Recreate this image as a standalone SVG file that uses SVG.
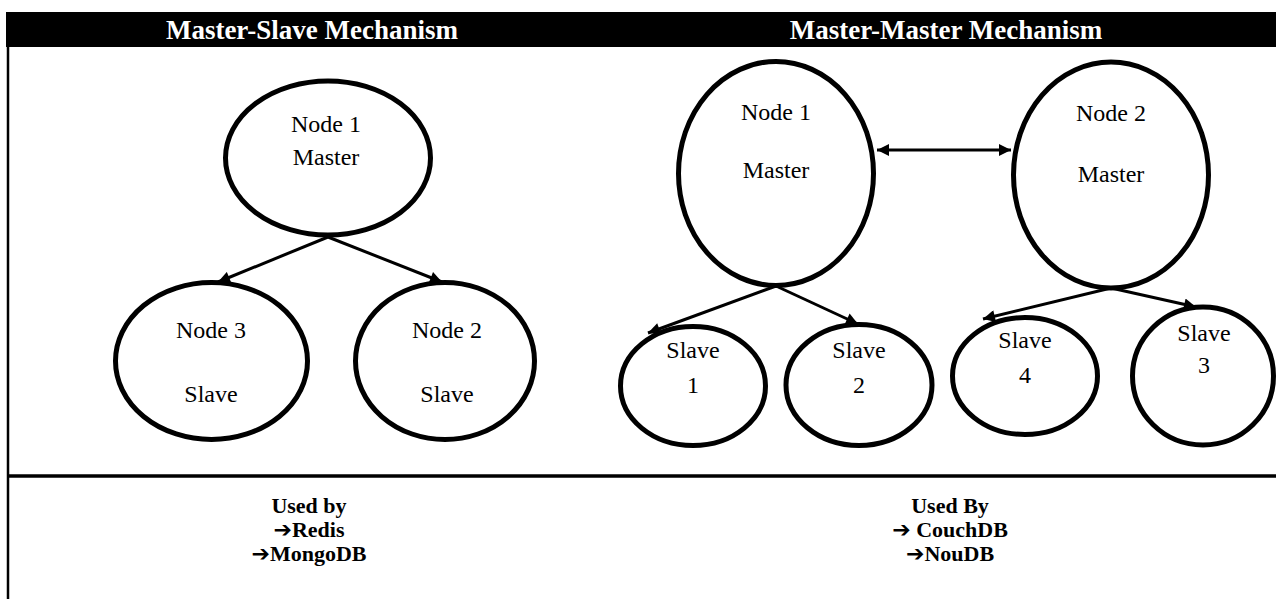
<svg xmlns="http://www.w3.org/2000/svg" width="1276" height="599" viewBox="0 0 1276 599">
<style>
.hdr{font-family:"Liberation Serif","Times New Roman",serif;font-weight:bold;font-size:27px;fill:#fff;text-anchor:middle}
.nt{font-family:"Liberation Serif","Times New Roman",serif;font-size:24px;fill:#000;text-anchor:middle}
.ft{font-family:"Liberation Serif","DejaVu Serif",serif;font-weight:bold;font-size:22px;fill:#000;text-anchor:middle}
.ar{font-family:"DejaVu Sans",sans-serif;font-weight:bold}
.node ellipse{fill:#fff;stroke:#000;stroke-width:5}
.edge{stroke:#000;stroke-width:3;fill:none}
</style>
<defs>
<marker id="ah" viewBox="0 0 10 10" refX="10" refY="5" markerWidth="4.5" markerHeight="4" orient="auto-start-reverse" markerUnits="strokeWidth">
<path d="M0,0 L10,5 L0,10 z" fill="#000"/>
</marker>
</defs>
<rect width="1276" height="599" fill="#fff"/>
<g id="frame">
<rect x="6" y="12" width="1270" height="35" fill="#000"/>
<line x1="8" y1="47" x2="8" y2="599" stroke="#000" stroke-width="2.5"/>
<line x1="7" y1="476" x2="1276" y2="476" stroke="#000" stroke-width="3.5"/>
<text class="hdr" x="312" y="39">Master-Slave Mechanism</text>
<text class="hdr" x="946" y="39">Master-Master Mechanism</text>
</g>
<g id="ms-node1" class="node">
<ellipse cx="328" cy="158" rx="102.5" ry="77"/>
<text class="nt" x="326" y="132">Node 1</text>
<text class="nt" x="326" y="165">Master</text>
</g>
<g id="ms-node3" class="node">
<ellipse cx="211.5" cy="361" rx="96" ry="78.5"/>
<text class="nt" x="211" y="338">Node 3</text>
<text class="nt" x="211" y="402">Slave</text>
</g>
<g id="ms-node2" class="node">
<ellipse cx="445" cy="361" rx="89.5" ry="78.5"/>
<text class="nt" x="447" y="338">Node 2</text>
<text class="nt" x="447" y="402">Slave</text>
</g>
<g id="mm-node1" class="node">
<ellipse cx="776" cy="173.5" rx="97.5" ry="112"/>
<text class="nt" x="776" y="120">Node 1</text>
<text class="nt" x="776" y="178">Master</text>
</g>
<g id="mm-node2" class="node">
<ellipse cx="1111" cy="175" rx="97.5" ry="113"/>
<text class="nt" x="1111" y="121">Node 2</text>
<text class="nt" x="1111" y="182">Master</text>
</g>
<g id="mm-slave1" class="node">
<ellipse cx="693" cy="386" rx="72.5" ry="59.5"/>
<text class="nt" x="693" y="358">Slave</text>
<text class="nt" x="693" y="393">1</text>
</g>
<g id="mm-slave2" class="node">
<ellipse cx="859" cy="385" rx="73" ry="60.5"/>
<text class="nt" x="859" y="358">Slave</text>
<text class="nt" x="859" y="393">2</text>
</g>
<g id="mm-slave4" class="node">
<ellipse cx="1025" cy="376" rx="72.5" ry="58.5"/>
<text class="nt" x="1025" y="348">Slave</text>
<text class="nt" x="1025" y="383">4</text>
</g>
<g id="mm-slave3" class="node">
<ellipse cx="1203" cy="376" rx="70.5" ry="69"/>
<text class="nt" x="1204" y="341">Slave</text>
<text class="nt" x="1204" y="373">3</text>
</g>
<g id="connectors">
<line class="edge" x1="328" y1="237" x2="218" y2="282" marker-end="url(#ah)"/>
<line class="edge" x1="328" y1="237" x2="442" y2="282" marker-end="url(#ah)"/>
<line class="edge" x1="877" y1="150" x2="1011" y2="150" marker-start="url(#ah)" marker-end="url(#ah)"/>
<line class="edge" x1="776" y1="286" x2="648" y2="333" marker-end="url(#ah)"/>
<line class="edge" x1="776" y1="286" x2="858" y2="324" marker-end="url(#ah)"/>
<line class="edge" x1="1111" y1="288" x2="983" y2="319" marker-end="url(#ah)"/>
<line class="edge" x1="1111" y1="288" x2="1196" y2="307" marker-end="url(#ah)"/>
</g>
<g id="footer">
<text class="ft" x="309" y="513">Used by</text>
<text class="ft" x="309" y="537"><tspan class="ar">➔</tspan>Redis</text>
<text class="ft" x="309" y="561"><tspan class="ar">➔</tspan>MongoDB</text>
<text class="ft" x="950" y="513">Used By</text>
<text class="ft" x="950" y="537"><tspan class="ar">➔</tspan> CouchDB</text>
<text class="ft" x="950" y="561"><tspan class="ar">➔</tspan>NouDB</text>
</g>
</svg>
